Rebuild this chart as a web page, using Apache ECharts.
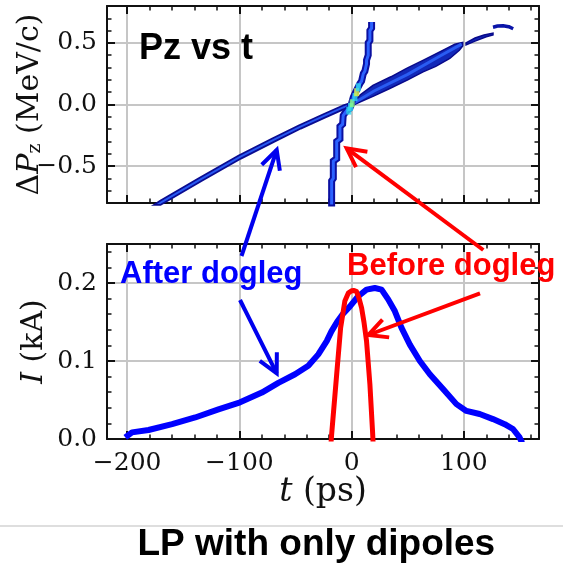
<!DOCTYPE html>
<html><head><meta charset="utf-8">
<script src="https://cdn.jsdelivr.net/npm/echarts@6/dist/echarts.min.js"></script>
<style>html,body{margin:0;padding:0;background:#fff}#c{width:563px;height:567px}</style>
</head><body><div id="c"></div>
<script>
// ---------------- data ----------------
// bottom panel: current profile after dogleg
const tAfterI = [-201.7,-195.7,-181,-160,-139.4,-118.7,-99.4,-80,-65.3,-50.4,-38.6,-29.7,-22.2,-18,-13,-8,-1.5,5.9,13.3,20.7,26.7,32.6,38.5,44.5,51.9,60.8,69.7,81.5,93.4,102.3,114.1,126,136.4,143.8,149.7,152];
const iAfter  = [0.002,0.0085,0.0115,0.019,0.0276,0.038,0.047,0.0595,0.072,0.083,0.094,0.1085,0.1255,0.138,0.150,0.160,0.170,0.183,0.1915,0.1936,0.1915,0.179,0.164,0.1425,0.121,0.100,0.083,0.064,0.0447,0.036,0.032,0.0255,0.019,0.0128,0.002,-0.005];
// bottom panel: current profile before dogleg
const tBeforeI = [-18.6,-17.8,-13.3,-9.8,-6,-3,0,2.2,4.4,6.5,8.9,11,13.3,16.3,18.7,19.3];
const iBefore  = [-0.01,0.006,0.083,0.1425,0.177,0.187,0.190,0.1905,0.189,0.181,0.168,0.150,0.1255,0.070,0.0085,-0.01];
// top panel: after-dogleg phase space, head (t<0) as a thin line
const tAfterLine  = [-182,-169,-135,-99.4,-70,-46,-25,-7.5,0];
const dpAfterLine = [-0.87,-0.79,-0.61,-0.426,-0.29,-0.182,-0.095,-0.024,0.0];
// top panel: after-dogleg tail fan (t>0), upper and lower edges
const tFanUpper  = [0,8,19,35,49,64,78.6,92,99];
const dpFanUpper = [0.01,0.08,0.155,0.225,0.293,0.36,0.428,0.49,0.505];
const tFanLower  = [99,96,87.5,75,63.7,50,34,20,7.4,0];
const dpFanLower = [0.475,0.44,0.374,0.31,0.265,0.2,0.13,0.07,0.02,-0.01];
const tFan2Upper  = [102,110,118,126];
const dpFan2Upper = [0.50,0.54,0.565,0.58];
const tFan2Lower  = [126,120,110,102];
const dpFan2Lower = [0.565,0.55,0.515,0.485];
// core of the fan
const tFanCore  = [0,20,50,80,98];
const dpFanCore = [0,0.11,0.245,0.40,0.49];
// faint wisp at the far tail
const tWisp  = [126,130,135,140,144];
const dpWisp = [0.628,0.637,0.64,0.632,0.615];
// top panel: before-dogleg phase space (staircase)
const tStair  = [-17.8,-17.8,-16.3,-16.3,-13.3,-13.3,-10.4,-10.4,-8,-7.5,-6,-4.4,-1.5,0,1.5,2.9,4.4,5.9,7.4,8.9,10.4,11.8,13.3,13.3,14.8,14.8,16.3,16.3,17.8,17.8];
const dpStair = [-0.85,-0.62,-0.60,-0.46,-0.44,-0.30,-0.28,-0.18,-0.16,-0.09,-0.07,-0.05,-0.03,0.01,0.06,0.07,0.116,0.13,0.17,0.19,0.25,0.27,0.33,0.36,0.40,0.50,0.52,0.60,0.62,0.67];
// density hot spots near the crossing
const tHot  = [-2.5,-1,0.5,3,4.5,6];
const dpHot = [-0.05,-0.02,0.01,0.06,0.10,0.14];
const hotLevel = [1,1,2,1,3,1]; // 1 cyan, 2 green, 3 yellow

// axes and ticks
const X_MIN = -218, X_MAX = 167;
const Y1_MIN = -0.8, Y1_MAX = 0.8;
const Y2_MIN = 0, Y2_MAX = 0.25;
const xTickValues  = [-200,-100,0,100];
const y1TickValues = [-0.5,0,0.5];
const y2TickValues = [0,0.1,0.2];

// ---------------- chart ----------------
const chart = echarts.init(document.getElementById('c'), null, {renderer:'canvas'});
const SERIF = '"DejaVu Serif", serif';
const SANS = '"Liberation Sans", Arial, sans-serif';
const fmtNum = (v, dec) => (dec == null ? String(Math.round(v)) : v.toFixed(dec)).replace('-', '\u2212');
const near = (arr, v) => arr.some(a => Math.abs(a - v) < 1e-6);

function xAxis(grid, pos, showLabel, name) {
  return {
    type:'value', gridIndex:grid, position:pos, min:X_MIN, max:X_MAX, splitNumber:4,
    axisLine:{show:true, onZero:false, lineStyle:{color:'#111', width:2}},
    axisTick:{show:true, inside:true, length:8, lineStyle:{color:'#111', width:2}},
    minorTick:{show:true, splitNumber:5, length:4.5, lineStyle:{color:'#111', width:1.5}},
    splitLine:{show:pos==='bottom', lineStyle:{color:'#c6c6c6', width:2}},
    axisLabel:{show:showLabel, margin:12, fontFamily:SERIF, fontSize:25, color:'#111',
      formatter: v => near(xTickValues, v) ? fmtNum(v) : ''},
    name: name || '', nameLocation:'middle', nameGap:37, nameMoveOverlap:false,
    nameTextStyle:{ rich:{ i:{fontFamily:SERIF, fontStyle:'italic', fontSize:33, color:'#111'},
                           n:{fontFamily:SERIF, fontSize:33, color:'#111'} } }
  };
}
function yAxis(grid, pos, min, max, splitNumber, ticks, name, gap) {
  return {
    type:'value', gridIndex:grid, position:pos, min:min, max:max, splitNumber:splitNumber,
    axisLine:{show:true, onZero:false, lineStyle:{color:'#111', width:2}},
    axisTick:{show:true, inside:true, length:8, lineStyle:{color:'#111', width:2}},
    minorTick:{show:true, splitNumber:5, length:4.5, lineStyle:{color:'#111', width:1.5}},
    splitLine:{show:pos==='left', lineStyle:{color:'#c6c6c6', width:2}},
    axisLabel:{show:pos==='left', margin:10, fontFamily:SERIF, fontSize:25, color:'#111',
      formatter: v => near(ticks, v) ? fmtNum(v, 1) : ''},
    name: name || '', nameLocation:'middle', nameRotate:90, nameGap:gap || 60, nameMoveOverlap:false,
    nameTextStyle:{ rich:{
      n:{fontFamily:SERIF, fontSize:30, color:'#111', lineHeight:40, verticalAlign:'bottom'},
      i:{fontFamily:SERIF, fontStyle:'italic', fontSize:30, color:'#111', lineHeight:40, verticalAlign:'bottom'},
      s:{fontFamily:SERIF, fontSize:19, color:'#111', lineHeight:14, verticalAlign:'bottom'} } }
  };
}

const pts = (xs, ys) => xs.map((x, i) => [x, ys[i]]);

function arrow(x1, y1, x2, y2, color) {
  const dx = x2 - x1, dy = y2 - y1, L = Math.hypot(dx, dy);
  const ux = dx / L, uy = dy / L, a = 27 * Math.PI / 180, wl = 21;
  const w = s => [x2 - wl * (ux * Math.cos(a) - s * uy * Math.sin(a)),
                  y2 - wl * (s * ux * Math.sin(a) + uy * Math.cos(a))];
  return [
    {type:'line', shape:{x1:x1, y1:y1, x2:x2, y2:y2}, style:{stroke:color, lineWidth:4}, z:100},
    {type:'polyline', shape:{points:[w(1), [x2, y2], w(-1)]}, style:{stroke:color, lineWidth:4, fill:null, lineJoin:'miter'}, z:100}
  ];
}
function label(text, x, baseline, size, color) {
  return {type:'text', x:x, y:baseline - 0.3465 * size, z:100,
    style:{text:text, fill:color, font:'bold ' + size + 'px ' + SANS, align:'left', verticalAlign:'middle'}};
}

const hotColors = {1:'#2fd8f0', 2:'#8cff80', 3:'#e6f43c'};

const option = {
  animation:false,
  backgroundColor:'#fff',
  grid:[
    {left:107, top:6, width:432, height:197, containLabel:false, outerBoundsMode:'none'},
    {left:107, top:244, width:432, height:195, containLabel:false, outerBoundsMode:'none'}
  ],
  xAxis:[
    xAxis(0,'bottom',false),
    xAxis(0,'top',false),
    xAxis(1,'bottom',true,'{i|t}{n| (ps)}'),
    xAxis(1,'top',false)
  ],
  yAxis:[
    yAxis(0,'left',Y1_MIN,Y1_MAX,3,y1TickValues,'{n|\u0394}{i|P}{s|z}{n| (MeV/c)}',62),
    yAxis(0,'right',Y1_MIN,Y1_MAX,3,y1TickValues),
    yAxis(1,'left',Y2_MIN,Y2_MAX,3,y2TickValues,'{i|I}{n| (kA)}',58),
    yAxis(1,'right',Y2_MIN,Y2_MAX,3,y2TickValues)
  ],
  series:[
    { type:'custom', xAxisIndex:0, yAxisIndex:0, data:[[0,0]], clip:true, z:2,
      renderItem:function(params, api){
        const poly = (xs, ys) => xs.map((x, i) => api.coord([x, ys[i]]));
        const p1 = poly(tFanUpper, dpFanUpper).concat(poly(tFanLower, dpFanLower));
        const p2 = poly(tFan2Upper, dpFan2Upper).concat(poly(tFan2Lower, dpFan2Lower));
        const core = poly(tFanCore, dpFanCore);
        return {type:'group', children:[
          {type:'polygon', shape:{points:p1}, style:{fill:'#1228b8', stroke:'#08098a', lineWidth:1.5}},
          {type:'polygon', shape:{points:p2}, style:{fill:'#1228b8', stroke:'#08098a', lineWidth:1.5}},
          {type:'polyline', shape:{points:core}, style:{stroke:'#2a5cf2', lineWidth:3, fill:null}}
        ]};
      }
    },
    { type:'line', xAxisIndex:0, yAxisIndex:0, data:pts(tAfterLine, dpAfterLine), symbol:'none', z:3,
      lineStyle:{color:'#0a0c90', width:5.5} },
    { type:'line', xAxisIndex:0, yAxisIndex:0, data:pts(tAfterLine, dpAfterLine), symbol:'none', z:4,
      lineStyle:{color:'#2858f2', width:2} },
    { type:'line', xAxisIndex:0, yAxisIndex:0, data:pts(tWisp, dpWisp), symbol:'none', z:3,
      lineStyle:{color:'#0a14a8', width:3.5} },
    { type:'line', xAxisIndex:0, yAxisIndex:0, data:pts(tStair, dpStair), symbol:'none', z:5,
      lineStyle:{color:'#0b10a0', width:7, join:'miter'} },
    { type:'line', xAxisIndex:0, yAxisIndex:0, data:pts(tStair, dpStair), symbol:'none', z:6,
      lineStyle:{color:'#2c62ff', width:3, join:'miter'} },
    { type:'scatter', xAxisIndex:0, yAxisIndex:0, z:7, symbol:'rect', symbolSize:[5,8],
      data:pts(tHot, dpHot).map((p, i) => ({value:p, itemStyle:{color:hotColors[hotLevel[i]]}})) },
    { type:'line', xAxisIndex:2, yAxisIndex:2, data:pts(tAfterI, iAfter), symbol:'none', z:3,
      lineStyle:{color:'#0000ff', width:6, join:'round'} },
    { type:'line', xAxisIndex:2, yAxisIndex:2, data:pts(tBeforeI, iBefore), symbol:'none', z:4,
      lineStyle:{color:'#ff0000', width:5, join:'round'} }
  ],
  graphic:[
    label('Pz vs t', 139, 61.7, 36, '#000'),
    label('After dogleg', 120, 285, 31, '#0000ff'),
    label('Before dogleg', 347, 276.7, 31, '#ff0000'),
    label('LP with only dipoles', 137.5, 558, 37, '#000'),
    {type:'line', shape:{x1:0, y1:526, x2:563, y2:526}, style:{stroke:'#bdbdbd', lineWidth:1.2}},
    ...arrow(241.5, 256, 276.7, 150, '#0000ee'),
    ...arrow(240, 300, 276.7, 373.3, '#0000ee'),
    ...arrow(483.3, 250, 346.7, 148.3, '#ff0000'),
    ...arrow(480, 293.3, 368.3, 335, '#ff0000')
  ]
};
chart.setOption(option);
</script>
</body></html>
